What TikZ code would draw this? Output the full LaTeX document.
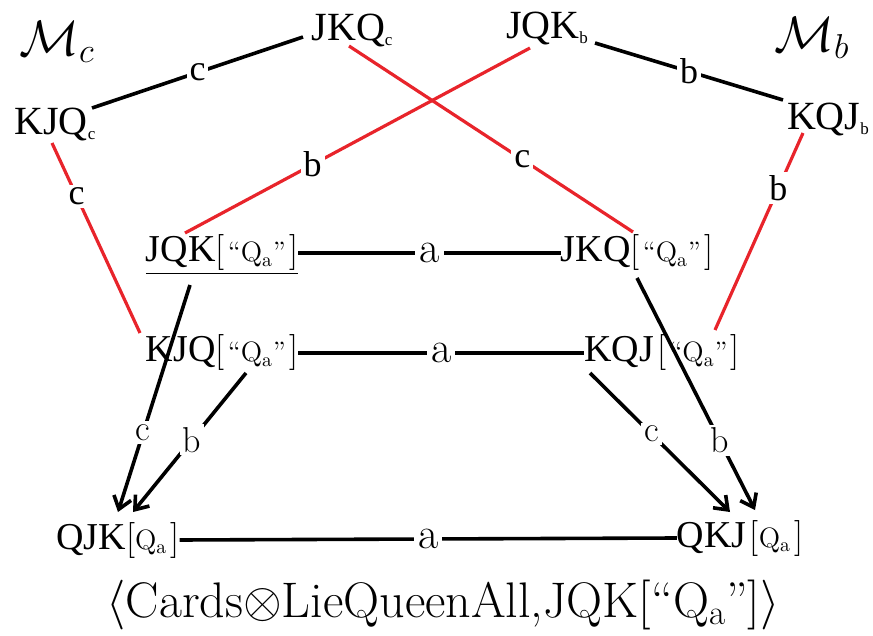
\documentclass[tikz,border=0pt]{standalone}
\usepackage{fontspec}
\newfontfamily\tms{Liberation Serif}
\usetikzlibrary{arrows.meta}
\definecolor{myred}{HTML}{E8242B}
\newcommand\tsub[1]{\raisebox{-2.5pt}{\tms\fontsize{8.5}{9}\selectfont #1}}
\newcommand\brq{{\fontsize{18}{20}\selectfont[}\,{\fontsize{14}{16}\selectfont “Q\textsubscript{a}”}\,{\fontsize{18}{20}\selectfont]}}
\newcommand\brp{{\fontsize{18}{20}\selectfont[}{\fontsize{14}{16}\selectfont Q\textsubscript{a}}\,{\fontsize{18}{20}\selectfont]}}
\begin{document}
\begin{tikzpicture}[x=0.5pt,y=-0.5pt,
  every node/.style={inner sep=0pt, outer sep=0pt},
  wnode/.style={font=\tms\fontsize{20}{22}\selectfont},
  blk/.style={draw=black, line width=1.8pt},
  rd/.style={draw=myred, line width=1.6pt},
  lbl/.style={fill=white, inner sep=1.5pt, font=\tms\fontsize{18}{20}\selectfont},
  lbla/.style={fill=white, inner sep=2pt, font=\fontsize{22}{24}\selectfont},
  lblb/.style={fill=white, inner sep=1.5pt, font=\fontsize{18}{20}\selectfont},
  arr/.style={blk, -{Straight Barb[length=6pt,width=9pt,line width=1.8pt]}}
]
\useasboundingbox (0,0) rectangle (873,636);

\node (mc) at (57,42) {\fontsize{25}{28}\selectfont $\mathcal{M}_c$};
\node (mb) at (812,38) {\fontsize{25}{28}\selectfont $\mathcal{M}_b$};

\node[wnode] (jkqc) at (352,31) {JKQ\tsub{c}};
\node[wnode] (jqkb) at (547,29) {JQK\tsub{b}};
\node[wnode] (kjqc) at (55,125) {KJQ\tsub{c}};
\node[wnode] (kqjb) at (828,120) {KQJ\tsub{b}};

\node (n1) at (222,255) {\underline{{\tms\fontsize{19}{20}\selectfont JQK}\brq}};
\node (n2) at (637,253) {{\tms\fontsize{19}{20}\selectfont JKQ}\brq};
\node (n3) at (222,353) {{\tms\fontsize{19}{20}\selectfont KJQ}\brq};
\node (n4) at (662,353) {{\tms\fontsize{19}{20}\selectfont KQJ}\,\brq};
\node (n5) at (118,540) {{\tms\fontsize{19}{20}\selectfont QJK}\brp};
\node (n6) at (740,538) {{\tms\fontsize{19}{20}\selectfont QKJ}\,\brp};

\node (cap) at (443,605) {\fontsize{25}{28}\selectfont $\langle$Cards$\otimes$LieQueenAll,JQK[“Q$_\mathrm{a}$”]$\rangle$};

% top black edges
\draw[blk] ([shift={(37,-17)}]kjqc.center) -- node[lbl,pos=0.5]{c} ([shift={(-49,6)}]jkqc.center);
\draw[blk] ([shift={(48,14)}]jqkb.center) -- node[lbl,pos=0.5]{b} ([shift={(-45,-20)}]kqjb.center);

% red edges
\draw[rd] ([shift={(-3,15)}]jkqc.center) -- node[lbl,pos=0.61]{c} ([shift={(-4,-21)}]n2.center);
\draw[rd] ([shift={(-17,19)}]jqkb.center) -- node[lbl,pos=0.63]{b} ([shift={(-37,-22)}]n1.center);
\draw[rd] ([shift={(-3,18)}]kjqc.center) -- node[lbl,pos=0.28]{c} ([shift={(-82,-20)}]n3.center);
\draw[rd] ([shift={(-25,13)}]kqjb.center) -- node[lbl,pos=0.28]{b} ([shift={(53,-23)}]n4.center);

% horizontal a edges
\draw[blk] (n1.east |- n2.center) -- node[lbla]{a} (n2.west);
\draw[blk] (n3.east) -- node[lbla]{a} (n4.west);
\draw[blk] (n5.east) -- node[lbla]{a} (n6.west);

% arrows
\draw[arr] ([shift={(-32,30)}]n1.center) -- node[lblb,pos=0.65]{c} ([shift={(0,-28)}]n5.center);
\draw[arr] ([shift={(24,20)}]n3.center) -- node[lblb,pos=0.48]{b} ([shift={(15,-28)}]n5.center);
\draw[arr] ([shift={(-72,20)}]n4.center) -- node[lblb,pos=0.44]{c} ([shift={(-10,-26)}]n6.center);
\draw[arr] ([shift={(0,25)}]n2.center) -- node[lblb,pos=0.70]{b} ([shift={(15,-28)}]n6.center);
\end{tikzpicture}
\end{document}
